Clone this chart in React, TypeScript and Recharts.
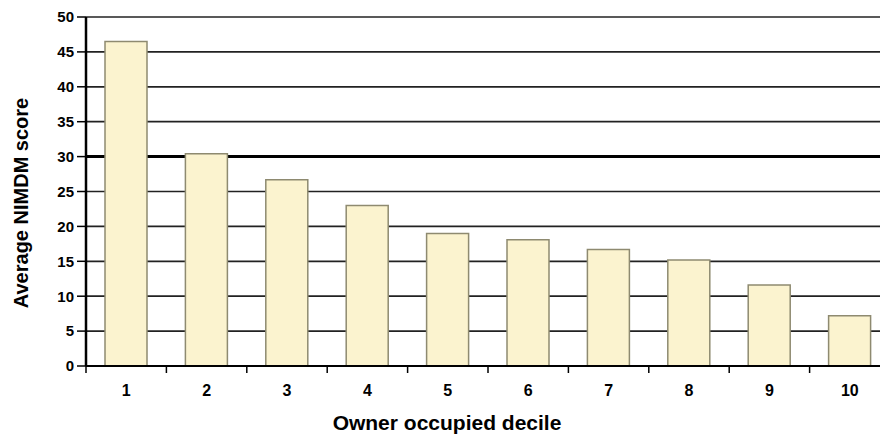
import React from 'react';
import {
  BarChart,
  Bar,
  XAxis,
  YAxis,
  CartesianGrid,
  Label,
} from 'recharts';

const deciles = ['1', '2', '3', '4', '5', '6', '7', '8', '9', '10'];
const scores = [46.5, 30.4, 26.7, 23.0, 19.0, 18.1, 16.7, 15.2, 11.6, 7.2];
const yTicks = [0, 5, 10, 15, 20, 25, 30, 35, 40, 45, 50];
const HEAVY_LINE = 30;

const data = deciles.map((d, i) => ({ decile: d, score: scores[i] }));

const CHART_W = 900;
const CHART_H = 436;
const MARGIN = { top: 17, right: 10, bottom: 0, left: 0 };
const Y_AXIS_W = 86;
const X_AXIS_H = 70;
const BAND = (CHART_W - MARGIN.left - MARGIN.right - Y_AXIS_W) / deciles.length;
const PLOT_H = CHART_H - MARGIN.top - MARGIN.bottom - X_AXIS_H;
const PLOT_BOTTOM = MARGIN.top + PLOT_H;
const Y_MAX = yTicks[yTicks.length - 1];
const HEAVY_Y = MARGIN.top + PLOT_H * (1 - HEAVY_LINE / Y_MAX);

const font = 'Arial, "Liberation Sans", sans-serif';

// category label centred in the band, tick mark on the band's left edge
function DecileTick(props: any) {
  const { x, payload } = props;
  const left = x - BAND / 2;
  return (
    <g>
      <line x1={left} y1={PLOT_BOTTOM} x2={left} y2={PLOT_BOTTOM + 7} stroke="#000" strokeWidth={1.5} />
      <text
        x={x}
        y={PLOT_BOTTOM + 30}
        textAnchor="middle"
        fontFamily={font}
        fontWeight="bold"
        fontSize={16}
        fill="#000"
      >
        {payload.value}
      </text>
    </g>
  );
}

// horizontal gridline; the 30 line is drawn heavier
function GridLine(props: any) {
  const { x1, x2, y1, y2 } = props;
  const heavy = Math.abs(y1 - HEAVY_Y) < 1.5;
  return (
    <line
      x1={x1}
      x2={x2}
      y1={y1}
      y2={y2}
      stroke={heavy ? '#000' : '#222'}
      strokeWidth={heavy ? 3 : 1.7}
    />
  );
}

export default function App() {
  return (
    <div style={{ position: 'absolute', left: 0, top: 0, width: 880, height: 436, overflow: 'hidden', background: '#fff' }}>
      <BarChart width={CHART_W} height={CHART_H} data={data} margin={MARGIN}>
        <CartesianGrid vertical={false} horizontal={(p: any) => <GridLine {...p} />} />
        <XAxis
          dataKey="decile"
          height={X_AXIS_H}
          axisLine={{ stroke: '#000', strokeWidth: 2 }}
          tickLine={false}
          tick={<DecileTick />}
          interval={0}
        >
          <Label
            content={() => (
              <text
                x={447}
                y={430}
                textAnchor="middle"
                fontFamily={font}
                fontWeight="bold"
                fontSize={21}
                fill="#000"
              >
                Owner occupied decile
              </text>
            )}
          />
        </XAxis>
        <YAxis
          width={Y_AXIS_W}
          domain={[0, Y_MAX]}
          ticks={yTicks}
          interval={0}
          axisLine={{ stroke: '#000', strokeWidth: 2.5 }}
          tickLine={{ stroke: '#000', strokeWidth: 1.5 }}
          tickSize={9}
          tickMargin={3}
          tick={{ fontFamily: font, fontWeight: 'bold', fontSize: 15, fill: '#000' }}
        >
          <Label
            content={() => (
              <text
                x={0}
                y={0}
                transform="translate(28, 203) rotate(-90)"
                textAnchor="middle"
                fontFamily={font}
                fontWeight="bold"
                fontSize={20}
                fill="#000"
              >
                Average NIMDM score
              </text>
            )}
          />
        </YAxis>
        <Bar
          dataKey="score"
          barSize={42}
          fill="#fbf3cf"
          stroke="#8e8a70"
          strokeWidth={1.5}
          isAnimationActive={false}
        />
      </BarChart>
    </div>
  );
}
